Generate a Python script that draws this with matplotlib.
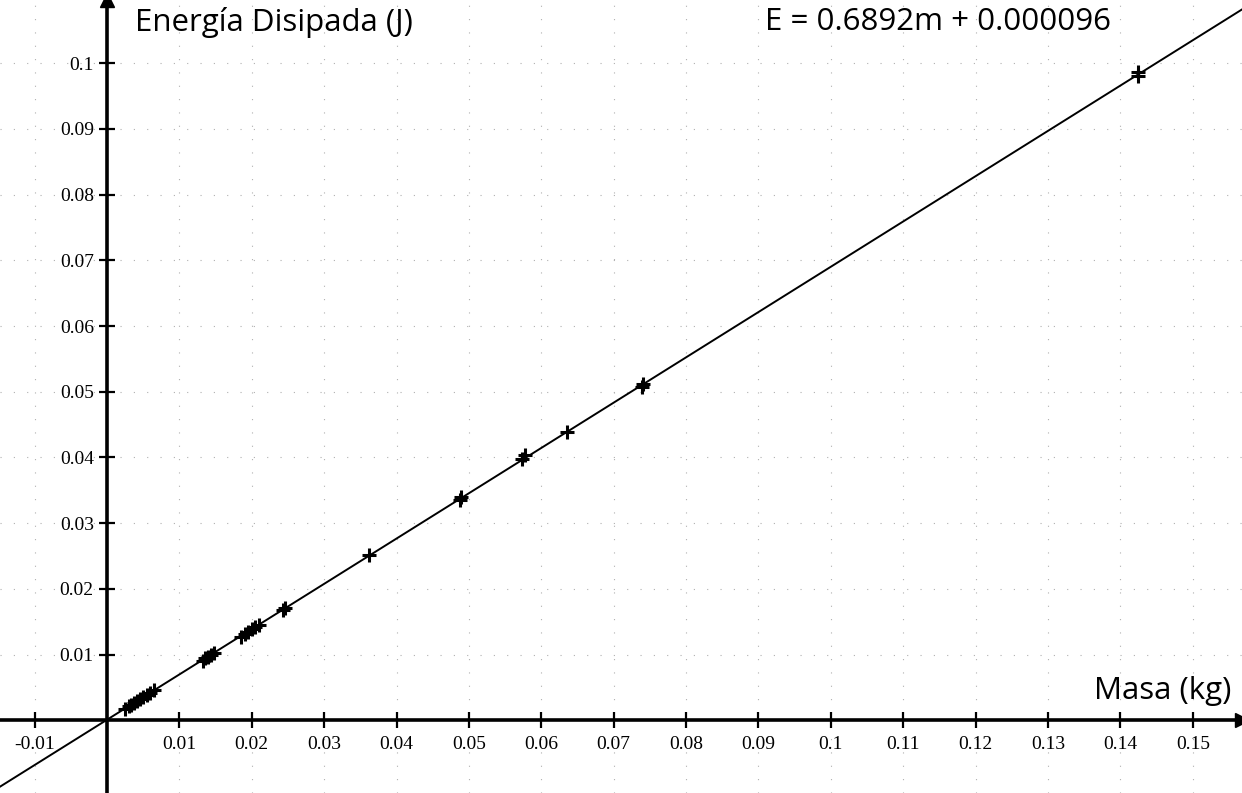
import numpy as np
import matplotlib.pyplot as plt

# datos medidos: masa (kg) y energia disipada (J)
masa = [0.0025, 0.0030, 0.0033, 0.0038, 0.0042, 0.0046, 0.0050, 0.0055, 0.0060, 0.0065,
        0.0132, 0.0136, 0.0140, 0.0144, 0.0148,
        0.0185, 0.0190, 0.0195, 0.0200, 0.0205, 0.0210,
        0.0243, 0.0246, 0.0362, 0.0487, 0.0489, 0.0574, 0.0577,
        0.0635, 0.0739, 0.0741, 0.1424, 0.1425]
energia = [0.0018, 0.0022, 0.0024, 0.0027, 0.0030, 0.0032, 0.0036, 0.0039, 0.0042, 0.0046,
           0.0091, 0.0095, 0.0097, 0.0100, 0.0103,
           0.0127, 0.0131, 0.0134, 0.0139, 0.0142, 0.0145,
           0.0168, 0.0171, 0.0251, 0.0335, 0.0340, 0.0398, 0.0404,
           0.0438, 0.0507, 0.0512, 0.0980, 0.0987]

pendiente = 0.6892
ordenada = 0.000096

xticks = [-0.01, 0.01, 0.02, 0.03, 0.04, 0.05, 0.06, 0.07, 0.08, 0.09, 0.1,
          0.11, 0.12, 0.13, 0.14, 0.15]
yticks = [0.01, 0.02, 0.03, 0.04, 0.05, 0.06, 0.07, 0.08, 0.09, 0.1]

xmin, xmax = -0.01478, 0.1568
ymin, ymax = -0.01105, 0.1096

fig = plt.figure(figsize=(12.42, 7.93), dpi=100)
ax = fig.add_axes([0, 0, 1, 1])
ax.set_xlim(xmin, xmax)
ax.set_ylim(ymin, ymax)

# ejes por el origen
for s in ['top', 'right']:
    ax.spines[s].set_visible(False)
ax.spines['left'].set_position(('data', 0))
ax.spines['bottom'].set_position(('data', 0))
ax.spines['left'].set_linewidth(2.6)
ax.spines['bottom'].set_linewidth(2.6)

# flechas
ax.plot(1, 0, '>', color='k', markersize=10, transform=ax.get_yaxis_transform(), clip_on=False)
ax.plot(0, 1, '^', color='k', markersize=10, transform=ax.get_xaxis_transform(), clip_on=False)

ax.set_xticks(xticks)
ax.set_yticks(yticks)
ax.set_xticklabels([('%g' % t) for t in xticks], family='Liberation Serif', fontsize=14)
ax.set_yticklabels([('%g' % t) for t in yticks], family='Liberation Serif', fontsize=14)
ax.tick_params(direction='inout', length=11, width=1.6, pad=4)
ax.tick_params(axis='x', pad=6)

ax.grid(True, color='#b0b0b0', linestyle=(0, (1, 11)), linewidth=0.8)
ax.set_axisbelow(True)

# recta de ajuste
xs = np.array([xmin, xmax])
ax.plot(xs, pendiente * xs + ordenada, color='k', linewidth=1.4, zorder=3)

ax.plot(masa, energia, '+', color='k', markersize=10, markeredgewidth=2.2, zorder=4)

ax.text(0.00385, 0.1062, 'Energía Disipada (J)', family='Open Sans', fontsize=22.5, va='center')
ax.text(0.0909, 0.1062, 'E = 0.6892m + 0.000096', family='Open Sans', fontsize=22.5, va='center')
ax.text(0.1553, 0.0044, 'Masa (kg)', family='Open Sans', fontsize=22.5, ha='right', va='center')

fig.savefig('out.png', dpi=100)
